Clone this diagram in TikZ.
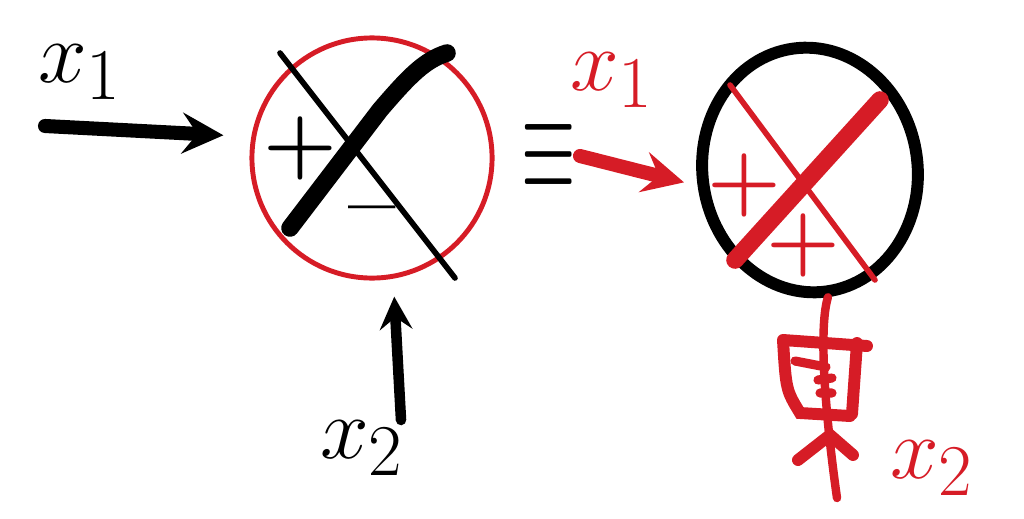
\documentclass[tikz,border=0pt]{standalone}
\usetikzlibrary{shapes.geometric}
\definecolor{sketchred}{RGB}{214,28,38}
\begin{document}
\begin{tikzpicture}[
			x = 0.01cm, y = -0.01cm, % pixel grid, y downwards
			> = stealth, % arrow head style
			line cap = round,
			font = \fontsize{28}{30}\selectfont
			]
			
			\tikzstyle{pen}=[line width = 4pt]
			\tikzstyle{thinpen}=[line width = 1.6pt]
			\tikzstyle{sign}=[inner sep = 0pt, font = \fontsize{24}{26}\selectfont\bfseries]
			
			\useasboundingbox (0,0) rectangle (1024,518);
			
			% the summing point and its twin
			\node[circle, draw = sketchred, line width = 1.4pt, minimum size = 2.4cm] (sum) at (372,158) {};
			\node[ellipse, draw, line width = 3.4pt, minimum width = 2.15cm, minimum height = 2.45cm, rotate = 8] (neg) at (810,170) {};
			
			% inputs
			\coordinate (xa) at (45,126);
			\coordinate (xb) at (401,420);
			\coordinate (xc) at (580,156);
			
			\node (lxa) at (80,72) {$x_1$};
			\node (lxb) at (362,448) {$x_2$};
			\node[sketchred] (lxc) at (612,80) {$x_1$};
			\node[sketchred] (lxd) at (932,468) {$x_2$};
			
			\path[->]
			(xa) edge [pen, shorten > = 0.28cm] (sum.170)
			(xb) edge [pen, line width = 3pt, shorten > = 0.18cm] (sum.-80)
			(xc) edge [pen, sketchred, shorten > = 0.14cm] (neg.west)
			;
			
			% cross in the left circle
			\draw[thinpen] (280,53) -- (455,278);
			\draw[pen, line width = 5pt] (447,53) .. controls (425,60) and (410,75) .. (380,110) -- (290,228);
			\node[sign] (pa) at (300,148) {+};
			\node[sign] (ma) at (372,218) {--};
			
			% equals
			\node[font = \fontsize{24}{24}\selectfont, xscale = 0.8, yscale = 1.6, transform shape] (eq) at (549,157) {$\equiv$};
			
			% cross in the right one
			\draw[sketchred, thinpen] (730,85) -- (875,280);
			\draw[sketchred, pen, line width = 5pt] (880,100) -- (735,260);
			\node[sign, sketchred] (pb) at (744,185) {+};
			\node[sign, sketchred] (pc) at (803,245) {+};
			
			% inverted second input
			\draw[sketchred, line width = 2.4pt] (neg.south) .. controls (818,330) and (826,420) .. (837,498);
			\draw[sketchred, line width = 3.4pt]
			(783,340) -- (867,346)
			(783,340) .. controls (786,390) .. (800,413) -- (850,416)
			(857,343) -- (852,414)
			(798,460) -- (830,435) -- (853,455);
			\draw[sketchred, line width = 2.6pt]
			(795,361) -- (826,367)
			(818,380) -- (832,378)
			(820,393) -- (832,393);
		\end{tikzpicture}
\end{document}
